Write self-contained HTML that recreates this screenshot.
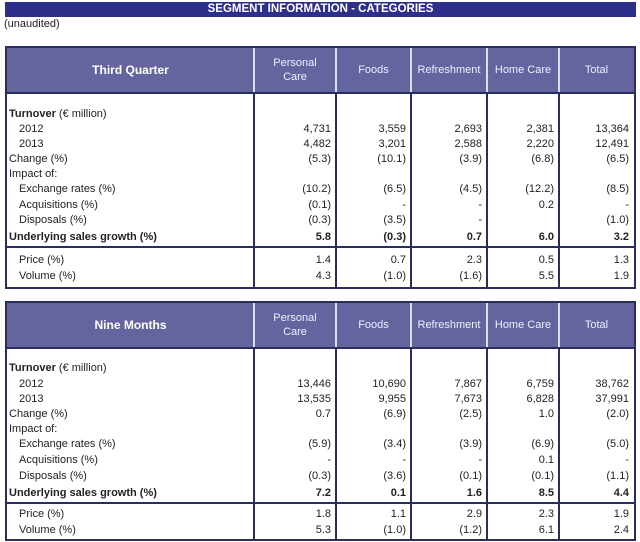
<!DOCTYPE html>
<html><head><meta charset="utf-8"><style>
body{margin:0;width:640px;height:542px;background:#fff;position:relative;overflow:hidden;font-family:"Liberation Sans Narrow","Liberation Sans",sans-serif;font-size:11px;color:#222}
.a{position:absolute;white-space:nowrap}
.title{left:5px;top:2px;width:631px;height:15px;background:#2e2f8a;color:#fff;font-weight:bold;text-align:center;line-height:15px;font-size:11.5px}
.tbl{position:absolute;left:5px;width:627px;border:2px solid #2b2d5e;background:#fff}
.hdr{position:absolute;left:0;top:0;width:627px;background:#64659f;border-bottom:2px solid #2b2d5e}
.hc{position:absolute;color:#eef;text-align:center;display:flex;align-items:center;justify-content:center;line-height:14px}
.vl{position:absolute;width:2px;background:#2b2d5e}
.hvl{position:absolute;width:2px;background:#dcdcec}
.hl{position:absolute;left:0;width:627px;height:2px;background:#2b2d5e}
.v{position:absolute;text-align:right}
.b{font-weight:bold}
</style></head><body>
<div class="a title">SEGMENT INFORMATION - CATEGORIES</div>
<div class="a" style="left:4px;top:18px">(unaudited)</div>
<div id="root"></div>
<script>
const categories=["Personal\nCare","Foods","Refreshment","Home Care","Total"];
const rowLabels=["Turnover","2012","2013","Change (%)","Impact of:","Exchange rates (%)","Acquisitions (%)","Disposals (%)","Underlying sales growth (%)","Price (%)","Volume (%)"];
const q3Values=[
 null,
 ["4,731","3,559","2,693","2,381","13,364"],
 ["4,482","3,201","2,588","2,220","12,491"],
 ["(5.3)","(10.1)","(3.9)","(6.8)","(6.5)"],
 null,
 ["(10.2)","(6.5)","(4.5)","(12.2)","(8.5)"],
 ["(0.1)","-","-","0.2","-"],
 ["(0.3)","(3.5)","-","","(1.0)"],
 ["5.8","(0.3)","0.7","6.0","3.2"],
 ["1.4","0.7","2.3","0.5","1.3"],
 ["4.3","(1.0)","(1.6)","5.5","1.9"]];
const nmValues=[
 null,
 ["13,446","10,690","7,867","6,759","38,762"],
 ["13,535","9,955","7,673","6,828","37,991"],
 ["0.7","(6.9)","(2.5)","1.0","(2.0)"],
 null,
 ["(5.9)","(3.4)","(3.9)","(6.9)","(5.0)"],
 ["-","-","-","0.1","-"],
 ["(0.3)","(3.6)","(0.1)","(0.1)","(1.1)"],
 ["7.2","0.1","1.6","8.5","4.4"],
 ["1.8","1.1","2.9","2.3","1.9"],
 ["5.3","(1.0)","(1.2)","6.1","2.4"]];
const colEdges=[0,247,329,404,480,552,627];
function build(top,title,vals,rowY,height,key){
 const t=document.createElement('div');t.className='tbl';t.style.top=top+'px';t.style.height=height+'px';
 
 
 document.getElementById('root').appendChild(t);
 const h=document.createElement('div');h.className='hdr';h.style.height='44px';
 
 
 t.appendChild(h);
 const hd=[title].concat(categories);
 for(let i=0;i<6;i++){
  const c=document.createElement('div');c.className='hc';
  c.style.left=colEdges[i]+'px';c.style.width=(colEdges[i+1]-colEdges[i])+'px';c.style.top='0';c.style.height='44px';
  if(i==0){c.style.fontWeight='bold';c.style.fontSize='12px';c.style.color='#fff';}
  c.innerHTML=hd[i].replace('\n','<br>');
  
  
  h.appendChild(c);
  if(i>0){const l=document.createElement('div');l.className='hvl';l.style.left=(colEdges[i]-1)+'px';l.style.top='0';l.style.height='44px';h.appendChild(l);
   const l2=document.createElement('div');l2.className='vl';l2.style.left=(colEdges[i]-1)+'px';l2.style.top='46px';l2.style.height=(height-46)+'px';t.appendChild(l2);}
 }
 const ulY=rowY[8];
 const hl=document.createElement('div');hl.className='hl';hl.style.top=(ulY+8)+'px';t.appendChild(hl);
 for(let r=0;r<rowLabels.length;r++){
  const y=rowY[r]-7;
  const lb=document.createElement('div');lb.className='a';lb.style.top=y+'px';
  const indent=(r==1||r==2||r==5||r==6||r==7||r==9||r==10)?12:2;
  lb.style.left=indent+'px';
  if(r==0){lb.innerHTML='<b>Turnover</b> (€ million)';}
  else{lb.textContent=rowLabels[r];if(r==8)lb.classList.add('b');}
  
  
  t.appendChild(lb);
  const vs=vals[r];if(!vs)continue;
  for(let c=0;c<5;c++){
   const v=document.createElement('div');v.className='v'+(r==8?' b':'');
   v.style.top=y+'px';v.style.left=colEdges[c+1]+'px';v.style.width=(colEdges[c+2]-colEdges[c+1]-5)+'px';
   v.textContent=vs[c];
   
   
   t.appendChild(v);
  }
 }
}
build(46,"Third Quarter",q3Values,[67,82,97,112,127,142,158,173,190,213,229],239,'q3');
build(301,"Nine Months",nmValues,[66,82,97,112,127,142,158,174,191,212,228],236,'nm');
</script>
</body></html>
